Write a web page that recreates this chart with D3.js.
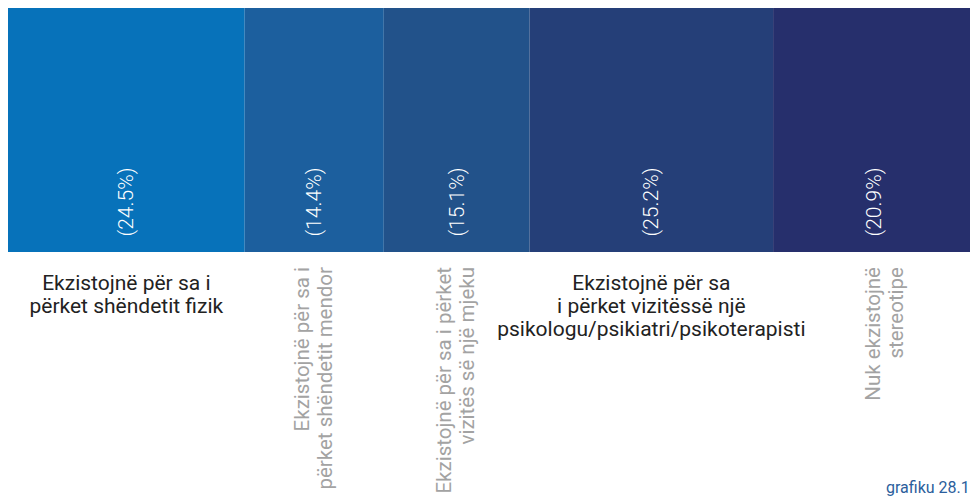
<!DOCTYPE html>
<html>
<head>
<meta charset="utf-8">
<script src="https://cdn.jsdelivr.net/npm/d3@7"></script>
<style>
  html, body { margin: 0; padding: 0; background: #fff; overflow: hidden; }
  svg { display: block; font-family: Roboto, "Noto Sans", sans-serif; }
</style>
</head>
<body>
<svg id="chart" width="970" height="500"></svg>
<script>
// ---- data ----
const categories = [
  ["Ekzistojnë për sa i", "përket shëndetit fizik"],
  ["Ekzistojnë për sa i", "përket shëndetit mendor"],
  ["Ekzistojnë për sa i përket", "vizitës së një mjeku"],
  ["Ekzistojnë për sa", "i përket vizitëssë një", "psikologu/psikiatri/psikoterapisti"],
  ["Nuk ekzistojnë", "stereotipe"]
];
const values = [24.5, 14.4, 15.1, 25.2, 20.9];
const valueLabels = ["(24.5%)", "(14.4%)", "(15.1%)", "(25.2%)", "(20.9%)"];
const rotatedLabel = [false, true, true, false, true];
const colors = ["#0772BA", "#1C5F9E", "#22528A", "#253F78", "#262F6C"];
const footnote = "grafiku 28.1";

// ---- layout ----
const svg = d3.select("#chart");
const barTop = 8, barBottom = 252;
const total = d3.sum(values);
const x = d3.scaleLinear().domain([0, total]).range([8, 975]);

const starts = [];
values.reduce((acc, v) => { starts.push(acc); return acc + v; }, 0);
const data = values.map((v, i) => ({
  v, start: starts[i], cat: categories[i], lab: valueLabels[i],
  rot: rotatedLabel[i], color: colors[i], i
}));

// bars
svg.selectAll("rect.seg").data(data).enter().append("rect")
  .attr("class", "seg")
  .attr("x", d => x(d.start))
  .attr("y", barTop)
  .attr("width", d => x(d.start + d.v) - x(d.start))
  .attr("height", barBottom - barTop)
  .attr("fill", d => d.color);

// value labels (rotated, white)
svg.selectAll("text.val").data(data).enter().append("text")
  .attr("class", "val")
  .attr("transform", d => {
    const cx = (x(d.start) + x(d.start + d.v)) / 2;
    return `translate(${cx + 7},202) rotate(-90)`;
  })
  .attr("text-anchor", "middle")
  .attr("fill", "#ffffff")
  .attr("font-size", 21)
  .attr("font-weight", 300)
  .text(d => d.lab);

// category labels
const lineH = 23;
data.forEach(d => {
  const cx = (x(d.start) + x(d.start + d.v)) / 2;
  if (!d.rot) {
    const t = svg.append("text")
      .attr("text-anchor", "middle")
      .attr("fill", "#222222")
      .attr("font-size", 21)
      .attr("x", cx)
      .attr("y", 290);
    d.cat.forEach((line, k) => {
      t.append("tspan").attr("x", cx).attr("dy", k === 0 ? 0 : lineH).text(line);
    });
  } else {
    const n = d.cat.length;
    const shift = d.i === 4 ? 11 : 0;
    const firstBase = cx + shift + 6 - (n - 1) * lineH / 2;
    const t = svg.append("text")
      .attr("text-anchor", "end")
      .attr("fill", "#a3a3a3")
      .attr("font-size", 20.5)
      .attr("transform", `translate(${firstBase},267) rotate(-90)`);
    d.cat.forEach((line, k) => {
      t.append("tspan").attr("x", 0).attr("y", k * lineH).text(line);
    });
  }
});

// footnote
svg.append("text")
  .attr("x", 886)
  .attr("y", 493)
  .attr("fill", "#2B5E9C")
  .attr("font-size", 16)
  .text(footnote);
</script>
</body>
</html>
